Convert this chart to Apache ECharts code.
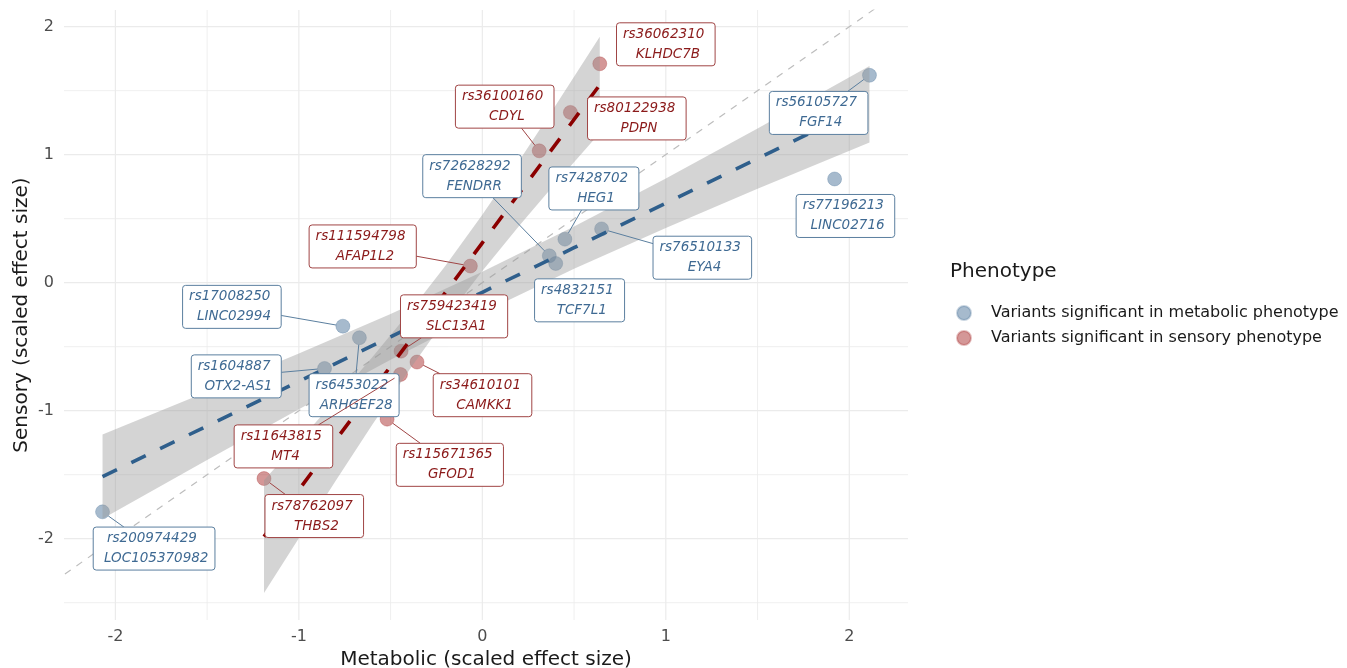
<!DOCTYPE html>
<html>
<head>
<meta charset="utf-8">
<script src="https://cdn.jsdelivr.net/npm/echarts@6/dist/echarts.min.js"></script>
<style>
  html, body { margin: 0; padding: 0; background: #fff; }
  #chart { width: 1347px; height: 668px; }
</style>
</head>
<body>
<div id="chart"></div>
<script>
// --- data ---
// variants significant in the metabolic phenotype
const metabolicX = [2.11, 1.92, 0.65, 0.45, 0.365, 0.40, -0.76, -0.67, -0.86, -2.07]
const metabolicY = [1.62, 0.81, 0.42, 0.34, 0.21, 0.15, -0.34, -0.43, -0.67, -1.79]
const metabolicRs = ['rs56105727', 'rs77196213', 'rs76510133', 'rs7428702', 'rs72628292', 'rs4832151', 'rs17008250', 'rs6453022', 'rs1604887', 'rs200974429']
const metabolicGene = ['FGF14', 'LINC02716', 'EYA4', 'HEG1', 'FENDRR', 'TCF7L1', 'LINC02994', 'ARHGEF28', 'OTX2-AS1', 'LOC105370982']

// variants significant in the sensory phenotype
const sensoryX = [0.64, 0.48, 0.31, -0.065, -0.443, -0.356, -0.446, -0.519, -1.19]
const sensoryY = [1.71, 1.33, 1.03, 0.13, -0.535, -0.62, -0.717, -1.066, -1.53]
const sensoryRs = ['rs36062310', 'rs80122938', 'rs36100160', 'rs111594798', 'rs759423419', 'rs34610101', 'rs11643815', 'rs115671365', 'rs78762097']
const sensoryGene = ['KLHDC7B', 'PDPN', 'CDYL', 'AFAP1L2', 'SLC13A1', 'CAMKK1', 'MT4', 'GFOD1', 'THBS2']

// fitted lines with their confidence bands
const metabolicFitX = [-2.07, -1.5, -1, -0.5, 0, 0.5, 1, 1.5, 2.11]
const metabolicFitY = [-1.515, -1.119, -0.771, -0.423, -0.075, 0.273, 0.621, 0.969, 1.394]
const metabolicFitLo = [-1.845, -1.386, -0.989, -0.602, -0.234, 0.109, 0.428, 0.733, 1.095]
const metabolicFitHi = [-1.186, -0.852, -0.553, -0.244, 0.085, 0.438, 0.814, 1.205, 1.693]

const sensoryFitX = [-1.19, -1.0, -0.8, -0.6, -0.4, -0.2, 0, 0.2, 0.4, 0.64]
const sensoryFitY = [-1.984, -1.618, -1.232, -0.846, -0.461, -0.075, 0.311, 0.697, 1.082, 1.545]
const sensoryFitLo = [-2.424, -1.996, -1.549, -1.110, -0.686, -0.283, 0.092, 0.443, 0.779, 1.170]
const sensoryFitHi = [-1.544, -1.240, -0.915, -0.582, -0.235, 0.134, 0.530, 0.950, 1.386, 1.921]

// y = x reference line
const identityX = [-2.4, 2.4]

const tickValues = [-2, -1, 0, 1, 2]
const minorX = [-1.5, -0.5, 0.5, 1.5]
const minorY = [-2.5, -1.5, -0.5, 0.5, 1.5]

// --- layout of the repelled labels (label box centres, data units) ---
const metabolicLabelPos = [[1.833, 1.326], [1.979, 0.521], [1.199, 0.195], [0.608, 0.736], [-0.056, 0.832], [0.530, -0.138], [-1.365, -0.189], [-0.699, -0.879], [-1.341, -0.732], [-1.789, -2.077]]
const sensoryLabelPos = [[1.0, 1.862], [0.842, 1.283], [0.122, 1.375], [-0.652, 0.283], [-0.154, -0.263], [0.001, -0.879], [-1.084, -1.279], [-0.177, -1.423], [-0.916, -1.823]]

const FONT = '"DejaVu Sans", "Noto Sans", sans-serif'
const LABEL_FONT = 'italic 13.5px ' + FONT
const metabolicName = 'Variants significant in metabolic phenotype'
const sensoryName = 'Variants significant in sensory phenotype'

const measureCtx = document.createElement('canvas').getContext('2d')
measureCtx.font = LABEL_FONT
const textWidth = s => measureCtx.measureText(s).width

const gridSeries = (values, dim, width) => ({
  type: 'custom',
  silent: true,
  z: 0,
  data: values.map(v => [v]),
  encode: dim === 'x' ? { x: 0 } : { y: 0 },
  renderItem: (params, api) => {
    const cs = params.coordSys
    const v = api.value(0)
    let shape
    if (dim === 'x') {
      const px = api.coord([v, 0])[0]
      shape = { x1: px, y1: cs.y, x2: px, y2: cs.y + cs.height }
    } else {
      const py = api.coord([0, v])[1]
      shape = { x1: cs.x, y1: py, x2: cs.x + cs.width, y2: py }
    }
    return { type: 'line', shape, style: { stroke: '#ebebeb', lineWidth: width } }
  }
})

const ribbonSeries = (xs, lo, hi) => ({
  type: 'custom',
  silent: true,
  z: 3,
  data: xs.map((x, i) => [x, lo[i], hi[i]]),
  encode: { x: 0, y: [1, 2] },
  renderItem: (params, api) => {
    if (params.dataIndex !== 0) return null
    const pts = []
    xs.forEach((x, i) => pts.push(api.coord([x, hi[i]])))
    for (let i = xs.length - 1; i >= 0; i--) pts.push(api.coord([xs[i], lo[i]]))
    return { type: 'polygon', shape: { points: pts }, style: { fill: 'rgba(153,153,153,0.42)' } }
  }
})

const fitSeries = (xs, ys, color) => ({
  type: 'line',
  silent: true,
  z: 4,
  symbol: 'none',
  data: xs.map((x, i) => [x, ys[i]]),
  lineStyle: { color, width: 3.6, type: [16, 16], cap: 'butt' }
})

const pointSeries = (name, xs, ys, rgb) => ({
  name,
  type: 'scatter',
  z: 2,
  symbolSize: 14,
  data: xs.map((x, i) => [x, ys[i]]),
  itemStyle: { color: 'rgba(' + rgb + ',0.58)', borderColor: 'rgba(' + rgb + ',0.35)', borderWidth: 1 }
})

const labelSeries = (xs, ys, rs, genes, pos, color, border) => ({
  type: 'custom',
  silent: true,
  z: 6,
  clip: false,
  data: xs.map((x, i) => [x, ys[i], pos[i][0], pos[i][1], i]),
  encode: { x: [0, 2], y: [1, 3] },
  renderItem: (params, api) => {
    const i = api.value(4)
    const p = api.coord([api.value(0), api.value(1)])
    const c = api.coord([api.value(2), api.value(3)])
    const l1 = rs[i] + ' '
    const l2 = ' ' + genes[i]
    const w = Math.max(textWidth(l1), textWidth(l2)) + 13
    const h = 43
    const bx = c[0] - w / 2
    const by = c[1] - h / 2
    const children = []
    // segment from the point towards the label centre, stopping at the box edge
    const dx = c[0] - p[0]
    const dy = c[1] - p[1]
    const len = Math.hypot(dx, dy)
    const tx = dx > 0 ? (bx - p[0]) / dx : dx < 0 ? (bx + w - p[0]) / dx : -Infinity
    const ty = dy > 0 ? (by - p[1]) / dy : dy < 0 ? (by + h - p[1]) / dy : -Infinity
    const t = Math.max(tx, ty)
    if (t * len > 20) {
      const r = 7 / len
      children.push({
        type: 'line',
        shape: { x1: p[0] + dx * r, y1: p[1] + dy * r, x2: p[0] + dx * t, y2: p[1] + dy * t },
        style: { stroke: border, lineWidth: 1 }
      })
    }
    children.push({
      type: 'rect',
      shape: { x: bx, y: by, width: w, height: h, r: 3 },
      style: { fill: '#fff', stroke: border, lineWidth: 1 }
    })
    children.push({
      type: 'text',
      x: c[0],
      y: c[1],
      style: { text: l1 + '\n' + l2, font: LABEL_FONT, fill: color, align: 'center', verticalAlign: 'middle', lineHeight: 20 }
    })
    return { type: 'group', children }
  }
})

const chart = echarts.init(document.getElementById('chart'))

chart.setOption({
  backgroundColor: '#fff',
  animation: false,
  textStyle: { fontFamily: FONT },
  title: {
    text: 'Phenotype',
    left: 945,
    top: 257,
    textStyle: { fontSize: 20, fontWeight: 'normal', color: '#1a1a1a', fontFamily: FONT }
  },
  legend: {
    data: [metabolicName, sensoryName],
    orient: 'vertical',
    left: 951,
    top: 300,
    itemWidth: 44,
    itemHeight: 14,
    itemGap: 9,
    selectedMode: false,
    textStyle: { fontSize: 16, color: '#1a1a1a', fontFamily: FONT }
  },
  grid: { left: 64, right: 439, top: 10, bottom: 48, outerBoundsMode: 'none' },
  xAxis: {
    type: 'value',
    min: -2.28,
    max: 2.32,
    axisLine: { show: false },
    axisTick: { show: false },
    splitLine: { show: false },
    axisLabel: { customValues: tickValues, color: '#4d4d4d', fontSize: 16, margin: 9, fontFamily: FONT },
    name: 'Metabolic (scaled effect size)',
    nameLocation: 'middle',
    nameGap: 26,
    nameTextStyle: { fontSize: 20, color: '#1a1a1a', fontFamily: FONT, verticalAlign: 'top' }
  },
  yAxis: {
    type: 'value',
    min: -2.635,
    max: 2.13,
    axisLine: { show: false },
    axisTick: { show: false },
    splitLine: { show: false },
    axisLabel: { customValues: tickValues, color: '#4d4d4d', fontSize: 16, margin: 10, fontFamily: FONT },
    name: 'Sensory (scaled effect size)',
    nameLocation: 'middle',
    nameGap: 32,
    nameMoveOverlap: false,
    nameTextStyle: { fontSize: 20, color: '#1a1a1a', fontFamily: FONT }
  },
  series: [
    gridSeries(minorX, 'x', 0.8),
    gridSeries(minorY, 'y', 0.8),
    gridSeries(tickValues, 'x', 1.2),
    gridSeries(tickValues, 'y', 1.2),
    {
      type: 'line',
      silent: true,
      z: 1,
      symbol: 'none',
      data: identityX.map(v => [v, v]),
      lineStyle: { color: '#bdbdbd', width: 1.2, type: [7, 7] }
    },
    pointSeries(metabolicName, metabolicX, metabolicY, '63,106,147'),
    pointSeries(sensoryName, sensoryX, sensoryY, '163,30,30'),
    ribbonSeries(metabolicFitX, metabolicFitLo, metabolicFitHi),
    ribbonSeries(sensoryFitX, sensoryFitLo, sensoryFitHi),
    fitSeries(metabolicFitX, metabolicFitY, '#2f5f8c'),
    fitSeries(sensoryFitX, sensoryFitY, '#8b0000'),
    labelSeries(metabolicX, metabolicY, metabolicRs, metabolicGene, metabolicLabelPos, '#3f6a93', '#5b7f9f'),
    labelSeries(sensoryX, sensoryY, sensoryRs, sensoryGene, sensoryLabelPos, '#8b1a1a', '#a04545')
  ]
})
</script>
</body>
</html>
